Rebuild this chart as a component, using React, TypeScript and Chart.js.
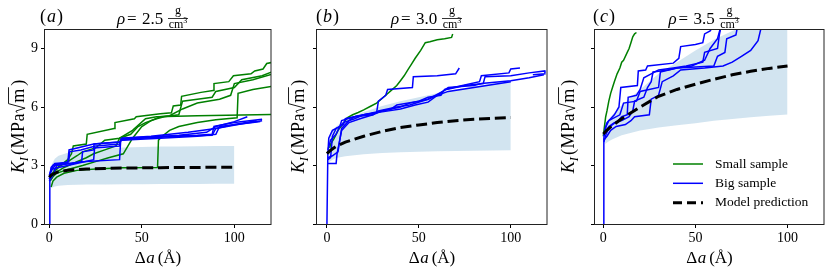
import React, { useEffect, useRef } from 'react';
import { Chart, registerables } from 'chart.js';

Chart.register(...registerables);

type Pt = [number, number];

// ---------- Panel (a): rho = 2.5 ----------
const aSmall1: Pt[] = [[1,2.3],[3,2.7],[6,3.0],[10,3.3],[12,3.6],[13,4.0],[20,4.1],[20.5,4.6],[35,4.9],[35.5,5.2],[46,5.4],[47,5.5],[60,5.65],[66,5.7],[67,6.05],[71,6.1],[71.5,6.55],[82,6.75],[88.5,6.85],[89,7.2],[97,7.3],[99.5,7.6],[109,7.7],[111,7.85],[115.5,7.95],[117.5,8.23],[120,8.28]];
const aSmall2: Pt[] = [[0.5,2.2],[3,2.6],[8,2.9],[15,3.2],[20,3.4],[24,3.6],[30,3.8],[36,4.0],[38,4.4],[44,4.6],[48,5.0],[52,5.2],[58,5.4],[62,5.5],[70,5.6],[72,6.3],[80,6.4],[88,6.5],[90,6.8],[100,7.0],[104,7.4],[115,7.6],[120,7.79]];
const aSmall3: Pt[] = [[0.5,2.3],[4,2.6],[10,2.8],[18,3.0],[25,3.2],[32,3.4],[40,3.6],[45,4.4],[50,5.0],[55,5.3],[60,5.5],[65,5.55],[72,5.9],[80,6.2],[92,6.4],[98,6.6],[100,7.2],[110,7.4],[120,7.67]];
const aSmall4: Pt[] = [[1,1.9],[2,2.2],[4,2.4],[8,2.6],[15,2.75],[25,2.82],[40,2.88],[58.5,2.9],[59,4.3],[61,4.5],[65,4.8],[70,5.0],[80,5.2],[90,5.35],[101.5,5.45],[102,6.7],[110,6.9],[120,7.05]];
const aSmall5: Pt[] = [[0.5,2.4],[3,2.8],[6,3.0],[10,3.2],[15,3.5],[18,3.7],[25,3.9],[30,4.3],[38,4.4],[45,4.8],[52,5.4],[58,5.5],[80,5.55],[120,5.62]];
const aBig1: Pt[] = [[0,0],[0.3,2.5],[1,2.9],[3,3.1],[10,3.15],[10.7,3.8],[24,4.1],[38,4.2],[39,4.35],[55,4.45],[70,4.55],[85,4.7],[90,5.0],[100,5.25],[107,5.5]];
const aBig2: Pt[] = [[0,2.3],[1,2.7],[3,3.0],[12,3.1],[17.5,3.2],[18,3.7],[24,3.8],[24.2,4.1],[38,4.2],[40,4.4],[60,4.5],[80,4.55],[88,4.6],[89,5.0],[100,5.2],[115,5.37]];
const aBig3: Pt[] = [[0,2.2],[2,2.5],[4,3.0],[10,3.1],[20,3.2],[38,3.3],[38.6,4.3],[50,4.4],[70,4.5],[88,4.55],[90,4.9],[105,5.15],[115,5.3]];
const aBig4: Pt[] = [[0,2.5],[2,3.0],[6,3.1],[10.5,3.2],[11,3.7],[17,3.8],[25,4.0],[38,4.1],[39,4.4],[55,4.5],[75,4.7],[90,4.9],[100,5.1],[112,5.3]];
const aBig5: Pt[] = [[0,2.4],[1,2.8],[5,2.9],[10,3.0],[24,3.3],[24.5,3.9],[38,4.0],[38.6,4.3],[60,4.4],[80,4.5],[90,4.6],[92,5.0],[110,5.2],[114,5.25]];

// ---------- Panel (b): rho = 3.0 ----------
const bSmall1: Pt[] = [[1.5,3.9],[2,4.1],[4,4.4],[6,4.8],[8.5,5.1],[11,5.45],[14,5.6],[17,5.72],[20,5.85],[24,6.05],[27,6.2],[29.5,6.4],[32,6.6],[35,6.85],[38,7.1],[40,7.35],[42,7.6],[44,7.9],[46,8.2],[48,8.5],[51,8.9],[53.5,9.3],[56,9.35],[60,9.45],[64,9.5],[67.8,9.57],[68.4,9.74]];
const bBig1: Pt[] = [[0,0],[0.5,3.6],[1,4.4],[3,4.8],[7,5.0],[8,5.3],[15,5.5],[20,5.6],[27,5.7],[28,6.3],[32,6.6],[33,6.9],[46.5,7.0],[47,7.55],[60,7.6],[70,7.7],[72,8.0]];
const bBig2: Pt[] = [[0.5,3.3],[2,3.4],[3,4.5],[5,4.9],[9,5.1],[10,5.4],[20,5.6],[25,5.7],[35,5.9],[38,6.1],[50,6.3],[55,6.5],[62,6.6],[64,6.9],[83,7.3],[84,7.6],[99,7.75],[100,7.95],[105,8.0]];
const bBig3: Pt[] = [[0.5,3.1],[5,3.1],[5.5,3.6],[8,4.8],[12,5.2],[18,5.4],[25,5.6],[30,5.8],[40,6.0],[45,6.2],[55,6.4],[65,6.9],[75,7.1],[85,7.2],[86,7.55],[100,7.6],[110,7.75],[118.5,7.85],[118.6,7.7],[112,7.65]];
const bBig4: Pt[] = [[0.5,3.4],[3,3.5],[6,3.7],[8,4.9],[12,5.3],[15,5.5],[25,5.6],[28,5.8],[38,6.0],[45,6.1],[55,6.4],[60,6.6],[66,7.0],[80,7.1],[84,7.2],[100,7.35],[110,7.5],[118,7.65]];
const bBig5: Pt[] = [[0.5,3.8],[2,4.3],[5,4.6],[7,5.0],[9,5.2],[15,5.4],[20,5.6],[30,5.75],[40,5.9],[48,6.1],[55,6.25],[60,6.6],[66,6.8],[80,7.0],[100,7.3]];

// ---------- Panel (c): rho = 3.5 ----------
const cSmall1: Pt[] = [[0,4.5],[0.5,4.9],[1.3,5.5],[2,5.8],[3,6.3],[4,6.7],[5,7.0],[6,7.3],[7.5,7.7],[9,8.0],[10,8.3],[11,8.4],[13,8.8],[14,9.0],[15,9.3],[16,9.6],[17,9.75],[18,9.82]];
const cBig1: Pt[] = [[0,0],[0.3,4.4],[1,4.9],[2,5.2],[4,5.4],[6,5.6],[8.5,6.0],[9.5,7.0],[18.5,7.1],[19,7.85],[23,7.9],[24,8.1],[38,8.25],[41,8.5],[42,9.1],[50,9.2],[54,9.3],[55,9.75],[58,9.9],[60,10.2]];
const cBig2: Pt[] = [[0.3,4.2],[1.5,4.6],[3,4.9],[5,5.1],[8,5.3],[10,5.5],[13,5.6],[13.5,6.5],[18,6.6],[20,6.9],[22,7.5],[26,7.7],[30,7.9],[38,8.0],[45,8.1],[54,8.3],[55,8.8],[62,9.0],[63,9.7],[64,10.2]];
const cBig3: Pt[] = [[0.3,4.5],[1,4.7],[3,5.0],[6,5.2],[10,5.3],[14,5.5],[16,5.8],[17,6.3],[22,6.5],[24,7.0],[26,7.3],[27,7.8],[35,7.9],[40,8.0],[50,8.05],[60,8.1],[62,8.6],[66,8.8],[67,9.5],[72,9.7],[73,10.2]];
const cBig4: Pt[] = [[0.3,4.3],[2,4.5],[4,4.8],[7,5.0],[12,5.1],[15,5.3],[17,5.5],[25,5.6],[26,6.4],[30,6.6],[32,7.3],[38,7.6],[42,7.9],[55,8.0],[65,8.1],[70,8.3],[75,8.6],[80,8.9],[84,9.4],[86,10.2]];
const cBig5: Pt[] = [[0.3,4.6],[1.5,5.0],[3,5.3],[5,5.4],[9,5.6],[11,6.2],[18,6.3],[20,6.8],[30,7.0],[31,7.8],[40,8.0],[48,8.1],[55,8.4],[58,9.0],[62,9.5],[64,10.2]];

// ---------- Model prediction and uncertainty band ----------
const modelX = [0, 1, 2, 5, 10, 20, 30, 40, 50, 60, 70, 80, 90, 100];
const modelA = [2.4, 2.5, 2.56, 2.68, 2.76, 2.82, 2.85, 2.87, 2.88, 2.89, 2.9, 2.9, 2.91, 2.91];
const modelB = [3.61, 3.7, 3.78, 3.98, 4.2, 4.5, 4.75, 4.95, 5.08, 5.2, 5.3, 5.37, 5.42, 5.46];
const modelC = [4.62, 4.72, 4.82, 5.05, 5.4, 6.0, 6.55, 6.9, 7.17, 7.42, 7.65, 7.83, 7.98, 8.1];

const bandX = [1, 3, 5, 10, 20, 30, 40, 50, 60, 70, 80, 90, 100];
const bandUpperA = [3.0, 3.35, 3.5, 3.65, 3.8, 3.87, 3.92, 3.95, 3.97, 3.98, 3.99, 4.0, 4.0];
const bandLowerA = [1.85, 1.92, 1.96, 2.0, 2.02, 2.03, 2.035, 2.04, 2.045, 2.05, 2.055, 2.06, 2.06];
const bandUpperB = [4.3, 4.75, 5.0, 5.35, 5.75, 6.05, 6.3, 6.5, 6.7, 6.9, 7.05, 7.2, 7.37];
const bandLowerB = [3.15, 3.3, 3.38, 3.48, 3.58, 3.64, 3.68, 3.71, 3.73, 3.75, 3.76, 3.77, 3.78];
const bandUpperC = [4.9, 5.35, 5.6, 6.1, 6.9, 7.7, 8.3, 8.9, 9.45, 9.9, 10.3, 10.7, 11.0];
const bandLowerC = [4.1, 4.25, 4.35, 4.55, 4.8, 4.95, 5.07, 5.17, 5.3, 5.38, 5.48, 5.55, 5.62];

const xTicks = [0, 50, 100];
const yTicks = [0, 3, 6, 9];
const panelLetters = ['a', 'b', 'c'];
const densities = ['2.5', '3.0', '3.5'];
const legendLabels = ['Small sample', 'Big sample', 'Model prediction'];

const FONT = "'Liberation Serif', 'Times New Roman', serif";
const GREEN = '#008000';
const BLUE = '#0000ff';
const BAND = 'rgba(31,119,180,0.2)';
const W = 830;
const H = 276;
const PLOT_TOP = 29;
const PLOT_BOTTOM = 224;
const YAXIS_W = 40;

type PanelCfg = {
  left: number; right: number; xMin: number; xMax: number;
  yLabels: boolean; letter: string; rho: string;
  ylabelX: number; letterX: number;
  small: Pt[][]; big: Pt[][]; model: number[]; upper: number[]; lower: number[];
  legend: boolean;
};

const PANELS: PanelCfg[] = [
  { left: 45, right: 271, xMin: -2.3, xMax: 119.8, yLabels: true, letter: panelLetters[0], rho: densities[0], ylabelX: 24, letterX: 40,
    small: [aSmall1, aSmall2, aSmall3, aSmall4, aSmall5], big: [aBig1, aBig2, aBig3, aBig4, aBig5], model: modelA, upper: bandUpperA, lower: bandLowerA, legend: false },
  { left: 317, right: 547, xMin: -5.4, xMax: 119.7, yLabels: false, letter: panelLetters[1], rho: densities[1], ylabelX: 304, letterX: 316,
    small: [bSmall1], big: [bBig1, bBig2, bBig3, bBig4, bBig5], model: modelB, upper: bandUpperB, lower: bandLowerB, legend: false },
  { left: 595, right: 824, xMin: -4.5, xMax: 119.8, yLabels: false, letter: panelLetters[2], rho: densities[2], ylabelX: 574, letterX: 593,
    small: [cSmall1], big: [cBig1, cBig2, cBig3, cBig4, cBig5], model: modelC, upper: bandUpperC, lower: bandLowerC, legend: true },
];

type Run = { t: string; size: number; italic?: boolean; dy?: number; dx?: number };

function setFont(ctx: CanvasRenderingContext2D, r: Run) {
  ctx.font = `${r.italic ? 'italic ' : ''}${r.size}px ${FONT}`;
}
function runsWidth(ctx: CanvasRenderingContext2D, runs: Run[]) {
  let w = 0;
  for (const r of runs) { setFont(ctx, r); w += (r.dx || 0) + ctx.measureText(r.t).width; }
  return w;
}
function drawRuns(ctx: CanvasRenderingContext2D, x: number, y: number, runs: Run[]) {
  let cx = x;
  for (const r of runs) {
    setFont(ctx, r);
    cx += r.dx || 0;
    ctx.fillText(r.t, cx, y + (r.dy || 0));
    cx += ctx.measureText(r.t).width;
  }
  return cx;
}

function makeDeco(p: PanelCfg) {
  return {
    id: 'deco',
    afterDraw(chart: any) {
      const ctx: CanvasRenderingContext2D = chart.ctx;
      const ca = chart.chartArea;
      ctx.save();
      // frame
      ctx.strokeStyle = '#222';
      ctx.lineWidth = 1;
      ctx.strokeRect(Math.round(ca.left) - 0.5, Math.round(ca.top) + 0.5, Math.round(ca.right - ca.left) + 0.5, Math.round(ca.bottom - ca.top));
      ctx.fillStyle = '#000';
      ctx.textBaseline = 'alphabetic';
      ctx.textAlign = 'left';
      const cx = (ca.left + ca.right) / 2;

      // panel letter
      drawRuns(ctx, p.letterX, 22, [{ t: '(', size: 18 }, { t: p.letter, size: 18, italic: true, dx: 1 }, { t: ')', size: 18, dx: 1 }]);

      // title rho = x g/cm^3
      drawRuns(ctx, cx - 41, 24, [{ t: 'ρ', size: 17, italic: true }]);
      drawRuns(ctx, cx - 31, 24, [{ t: '=', size: 17 }]);
      drawRuns(ctx, cx - 16, 24, [{ t: p.rho, size: 17 }]);
      const fc = cx + 20;
      ctx.font = `12px ${FONT}`;
      const gw = ctx.measureText('g').width;
      ctx.fillText('g', fc - gw / 2, 14);
      ctx.beginPath();
      ctx.moveTo(fc - 10, 18.5);
      ctx.lineTo(fc + 10, 18.5);
      ctx.lineWidth = 0.8;
      ctx.strokeStyle = '#000';
      ctx.stroke();
      const denom: Run[] = [{ t: 'cm', size: 12 }, { t: '3', size: 8, dy: -5 }];
      const dw = runsWidth(ctx, denom);
      drawRuns(ctx, fc - dw / 2, 28, denom);

      // x label
      const xl: Run[] = [{ t: 'Δ', size: 17 }, { t: 'a', size: 17, italic: true, dx: 0.5 }, { t: '(Å)', size: 17, dx: 3 }];
      const xw = runsWidth(ctx, xl);
      drawRuns(ctx, cx - xw / 2, 263, xl);

      // y label (rotated)
      const cy = (ca.top + ca.bottom) / 2;
      ctx.save();
      ctx.translate(p.ylabelX, cy);
      ctx.rotate(-Math.PI / 2);
      const f = 18;
      const pre: Run[] = [{ t: 'K', size: f, italic: true }, { t: 'I', size: 12.5, italic: true, dy: 4 }, { t: '(', size: f, dx: 2 }, { t: 'M', size: f, dx: 0.5 }, { t: 'P', size: f, dx: 0.5 }, { t: 'a', size: f, dx: 0.5 }];
      ctx.font = `${f}px ${FONT}`;
      const mW = ctx.measureText('m').width;
      const cW = ctx.measureText(')').width;
      const radW = 0.6 * f;
      const total = runsWidth(ctx, pre) + radW + mW + cW + 3;
      const x0 = drawRuns(ctx, -total / 2, 0, pre);
      // radical
      ctx.beginPath();
      ctx.moveTo(x0 + 0.04 * f, -0.38 * f);
      ctx.lineTo(x0 + 0.14 * f, -0.45 * f);
      ctx.lineTo(x0 + 0.3 * f, 0.06 * f);
      ctx.lineTo(x0 + 0.55 * f, -0.86 * f);
      ctx.lineTo(x0 + radW + mW + 1.5, -0.86 * f);
      ctx.lineWidth = 0.9;
      ctx.stroke();
      ctx.font = `${f}px ${FONT}`;
      ctx.fillText('m', x0 + radW, 0);
      ctx.fillText(')', x0 + radW + mW + 3, 0);
      ctx.restore();

      // legend
      if (p.legend) {
        const rows = [164, 183.3, 202.7];
        const styles = [
          { c: GREEN, w: 1.5, dash: [] as number[] },
          { c: BLUE, w: 1.5, dash: [] as number[] },
          { c: '#000', w: 3, dash: [9, 5] },
        ];
        rows.forEach((ry, i) => {
          ctx.beginPath();
          ctx.setLineDash(styles[i].dash);
          ctx.strokeStyle = styles[i].c;
          ctx.lineWidth = styles[i].w;
          ctx.moveTo(673, ry);
          ctx.lineTo(703, ry);
          ctx.stroke();
          ctx.setLineDash([]);
          ctx.font = `13.5px ${FONT}`;
          ctx.textBaseline = 'middle';
          ctx.fillStyle = '#000';
          ctx.fillText(legendLabels[i], 715, ry);
        });
      }
      ctx.restore();
    },
  };
}

function toXY(pts: Pt[]) {
  return pts.map(([x, y]) => ({ x, y }));
}
function zipXY(xs: number[], ys: number[]) {
  return xs.map((x, i) => ({ x, y: ys[i] }));
}

function buildChart(canvas: HTMLCanvasElement, p: PanelCfg) {
  const datasets: any[] = [];
  datasets.push({ data: zipXY(bandX, p.upper), borderColor: 'rgba(0,0,0,0)', borderWidth: 0, backgroundColor: BAND, fill: '+1', pointRadius: 0, order: 10 });
  datasets.push({ data: zipXY(bandX, p.lower), borderColor: 'rgba(0,0,0,0)', borderWidth: 0, fill: false, pointRadius: 0, order: 10 });
  p.small.forEach((s) => datasets.push({ data: toXY(s), borderColor: GREEN, borderWidth: 1.5, fill: false, pointRadius: 0, order: 5 }));
  p.big.forEach((s) => datasets.push({ data: toXY(s), borderColor: BLUE, borderWidth: 1.5, fill: false, pointRadius: 0, order: 4 }));
  datasets.push({ data: zipXY(modelX, p.model), borderColor: '#000', borderWidth: 3, borderDash: [11, 4.8], fill: false, pointRadius: 0, order: 1 });

  const tickFont = { family: FONT, size: 14 };
  const gridOpts = { display: true, drawOnChartArea: false, drawTicks: true, tickLength: 4, color: '#000', lineWidth: 1 };

  return new Chart(canvas, {
    type: 'line',
    data: { datasets },
    options: {
      animation: false,
      responsive: false,
      events: [],
      elements: { line: { tension: 0, borderCapStyle: 'butt', borderJoinStyle: 'miter' } },
      layout: { padding: { left: p.left - YAXIS_W, right: W - p.right, top: PLOT_TOP, bottom: 0 } },
      plugins: { legend: { display: false }, tooltip: { enabled: false }, title: { display: false } },
      scales: {
        x: {
          type: 'linear', min: p.xMin, max: p.xMax,
          afterBuildTicks: (s: any) => { s.ticks = xTicks.map((v) => ({ value: v })); },
          afterFit: (s: any) => { s.height = H - PLOT_BOTTOM; },
          ticks: { font: tickFont, color: '#000', padding: 2, maxRotation: 0, autoSkip: false },
          grid: gridOpts,
          border: { display: false },
        },
        y: {
          type: 'linear', min: 0, max: 10,
          afterBuildTicks: (s: any) => { s.ticks = yTicks.map((v) => ({ value: v })); },
          afterFit: (s: any) => { s.width = YAXIS_W; },
          ticks: { font: tickFont, color: '#000', padding: 3, callback: (v: any) => (p.yLabels ? String(v) : '') },
          grid: gridOpts,
          border: { display: false },
        },
      },
    } as any,
    plugins: [makeDeco(p)],
  });
}

function PanelCanvas({ p }: { p: PanelCfg }) {
  const ref = useRef<HTMLCanvasElement | null>(null);
  useEffect(() => {
    if (!ref.current) return;
    const chart = buildChart(ref.current, p);
    return () => chart.destroy();
  }, [p]);
  return (
    <canvas
      ref={ref}
      width={W}
      height={H}
      style={{ position: 'absolute', left: 0, top: 0, width: W, height: H }}
    />
  );
}

export default function App() {
  return (
    <div style={{ position: 'absolute', left: 0, top: 0, width: W, height: H, background: '#fff', overflow: 'hidden' }}>
      {PANELS.map((p, i) => (
        <PanelCanvas key={i} p={p} />
      ))}
    </div>
  );
}
